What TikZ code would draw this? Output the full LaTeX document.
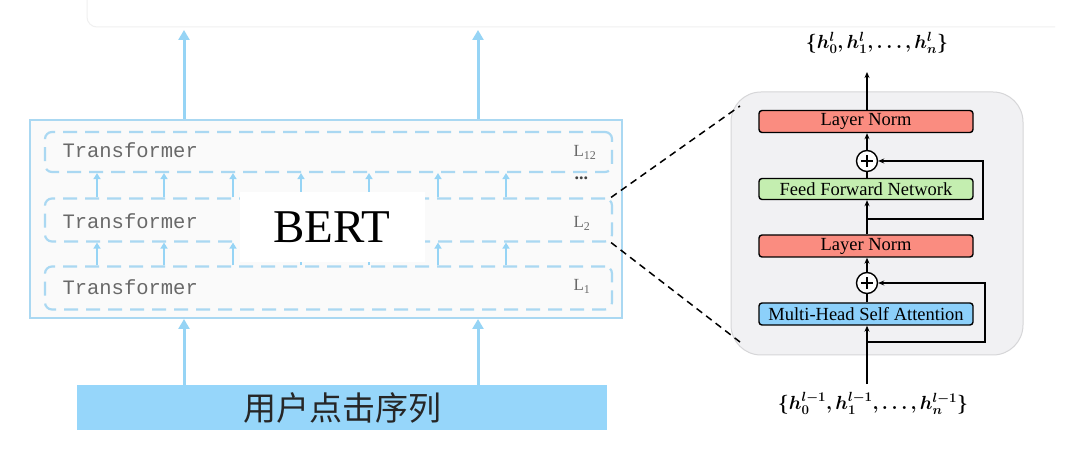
\documentclass[tikz,border=0pt]{standalone}
\usepackage{fix-cm}
\usepackage{fontspec}
\usepackage{amsmath,bm}
\setmainfont{Liberation Serif}
\setmonofont{Liberation Mono}
\newfontfamily\cjk{Noto Sans CJK SC}
\usetikzlibrary{arrows.meta}
\definecolor{bluearr}{RGB}{150,212,245}
\definecolor{blueedge}{RGB}{170,216,242}
\definecolor{barfill}{RGB}{150,214,250}
\definecolor{lnfill}{RGB}{250,140,128}
\definecolor{fffill}{RGB}{196,238,176}
\definecolor{mhfill}{RGB}{140,208,250}
\definecolor{panel}{RGB}{241,241,243}
\definecolor{paneledge}{RGB}{214,214,216}
\definecolor{txtgray}{RGB}{105,105,105}
\newcommand\outlabeltext{$\bm{\lbrace h_0^l, h_1^l, \ldots, h_n^l\rbrace}$}
\newcommand\inlabeltext{$\bm{\lbrace h_0^{l-1}, h_1^{l-1}, \ldots, h_n^{l-1}\rbrace}$}
\tikzset{
  bigarrow/.style={draw=bluearr, line width=3pt, -{Triangle[length=10pt,width=11pt]}},
  smallarrow/.style={draw=bluearr, line width=1.8pt, -{Triangle[length=6pt,width=7pt]}},
  rowbox/.style={draw=blueedge, line width=2.2pt, dash pattern=on 14pt off 8pt, rounded corners=7pt},
  trlabel/.style={anchor=west, text=txtgray, font=\ttfamily\fontsize{20.5}{20.5}\selectfont},
  llabel/.style={anchor=west, text=txtgray, font=\fontsize{17}{17}\selectfont},
  block/.style={draw=black, line width=1.4pt, rounded corners=3pt, minimum width=214pt, inner sep=0pt, font=\fontsize{18.5}{18.5}\selectfont},
  plusnode/.style={circle, draw=black, line width=1.4pt, fill=white, minimum size=21pt, inner sep=0pt, path picture={\draw[line width=1.4pt] ([xshift=-6pt]path picture bounding box.center) -- ([xshift=6pt]path picture bounding box.center) ([yshift=-6pt]path picture bounding box.center) -- ([yshift=6pt]path picture bounding box.center);}},
  flow/.style={draw=black, line width=1.4pt, -{Stealth[length=6pt,width=5pt]}},
  flowline/.style={draw=black, line width=1.4pt},
  zoomline/.style={draw=black, line width=1.5pt, dash pattern=on 7pt off 5pt},
  mathlabel/.style={font=\fontsize{19}{19}\selectfont}
}
\begin{document}
\begin{tikzpicture}[x=1pt,y=-1pt]
\useasboundingbox[fill=white] (0,0) rectangle (1080,465);
% faint background box at top
\draw[draw=black!6, line width=1pt, rounded corners=10pt] (87,-10) -- (87,27) -- (1055,27);

% BERT outer box
\node[draw=blueedge, line width=2pt, fill=black!2, minimum width=592pt, minimum height=198pt, inner sep=0pt] (bertbox) at (326,219) {};
% transformer rows
\node[rowbox, minimum width=567pt, minimum height=40pt, inner sep=0pt] (row1) at (328.5,152) {};
\node[rowbox, minimum width=567pt, minimum height=43pt, inner sep=0pt] (row2) at (328.5,220) {};
\node[rowbox, minimum width=567pt, minimum height=43pt, inner sep=0pt] (row3) at (328.5,288) {};
\node[trlabel] (t1) at (59,150) {Transformer};
\node[trlabel] (t2) at (59,221) {Transformer};
\node[trlabel] (t3) at (59,287) {Transformer};
\node[llabel] (l12) at (570,152) {L\raisebox{-3pt}{\fontsize{12}{12}\selectfont 12}};
\node[anchor=west, text=black!75, font=\bfseries\fontsize{18}{18}\selectfont] (dots) at (571,178) {...};
\node[llabel] (l2) at (570,223) {L\raisebox{-3pt}{\fontsize{12}{12}\selectfont 2}};
\node[llabel] (l1) at (570,286) {L\raisebox{-3pt}{\fontsize{12}{12}\selectfont 1}};
% small arrows between rows
\foreach \x in {97,164,233,301,369,438,506}{
  \draw[smallarrow] (row2.north -| \x,0) -- (row1.south -| \x,0);
  \draw[smallarrow] (row3.north -| \x,0) -- (row2.south -| \x,0);
}
% BERT label
\node[fill=white, minimum width=185pt, minimum height=70pt, inner sep=0pt, font=\fontsize{47}{47}\selectfont] (bert) at (332,227) {BERT};

% top arrows
\coordinate (top1) at (184,30);
\coordinate (top2) at (478,30);
\draw[bigarrow] (bertbox.north -| top1) -- (top1);
\draw[bigarrow] (bertbox.north -| top2) -- (top2);

% bottom bar
\node[fill=barfill, minimum width=530pt, minimum height=45pt, inner sep=0pt, text=black!85, font=\cjk\fontsize{33}{33}\selectfont] (bar) at (342,407.5) {用户点击序列};
\draw[bigarrow] (bar.north -| top1) -- (bertbox.south -| top1);
\draw[bigarrow] (bar.north -| top2) -- (bertbox.south -| top2);

% right panel
\node[draw=paneledge, line width=1pt, fill=panel, rounded corners=30pt, minimum width=292pt, minimum height=263pt, inner sep=0pt] (panel) at (877,223.5) {};
\node[block, fill=lnfill, minimum height=22pt] (ln1) at (866,121.5) {Layer Norm};
\node[plusnode] (p1) at (867,161) {};
\node[block, fill=fffill, minimum height=21pt] (ffn) at (866,189) {Feed Forward Network};
\node[block, fill=lnfill, minimum height=22pt] (ln2) at (866,246) {Layer Norm};
\node[plusnode] (p2) at (867,283) {};
\node[block, fill=mhfill, minimum height=22pt] (mh) at (866,314) {Multi-Head Self Attention};

\node[mathlabel] (outlbl) at (877,43) {\outlabeltext};
\node[mathlabel] (inlbl) at (873,403) {\inlabeltext};

\coordinate (inp) at (867,384);
\coordinate (outp) at (867,72);
\coordinate (r2s) at (867,342);
\coordinate (r2c) at (985,342);
\coordinate (r1s) at (867,219);
\coordinate (r1c) at (983,219);

\draw[flow] (inp) -- (mh.south -| inp);
\draw[flowline] (mh.north -| p2) -- (p2);
\draw[flow] (p2) -- (ln2.south -| p2);
\draw[flow] (ln2.north -| p1) -- (ffn.south -| p1);
\draw[flowline] (ffn.north -| p1) -- (p1);
\draw[flow] (p1) -- (ln1.south -| p1);
\draw[flow] (ln1.north -| outp) -- (outp);
\draw[flow] (r2s) -- (r2c) -- (r2c |- p2) -- (p2);
\draw[flow] (r1s) -- (r1c) -- (r1c |- p1) -- (p1);

% zoom lines
\coordinate (zu) at (740,106);
\coordinate (zd) at (740,342);
\draw[zoomline] ([xshift=-2pt]row2.north east) -- (zu);
\draw[zoomline] ([xshift=-2pt]row2.south east) -- (zd);
\end{tikzpicture}
\end{document}
